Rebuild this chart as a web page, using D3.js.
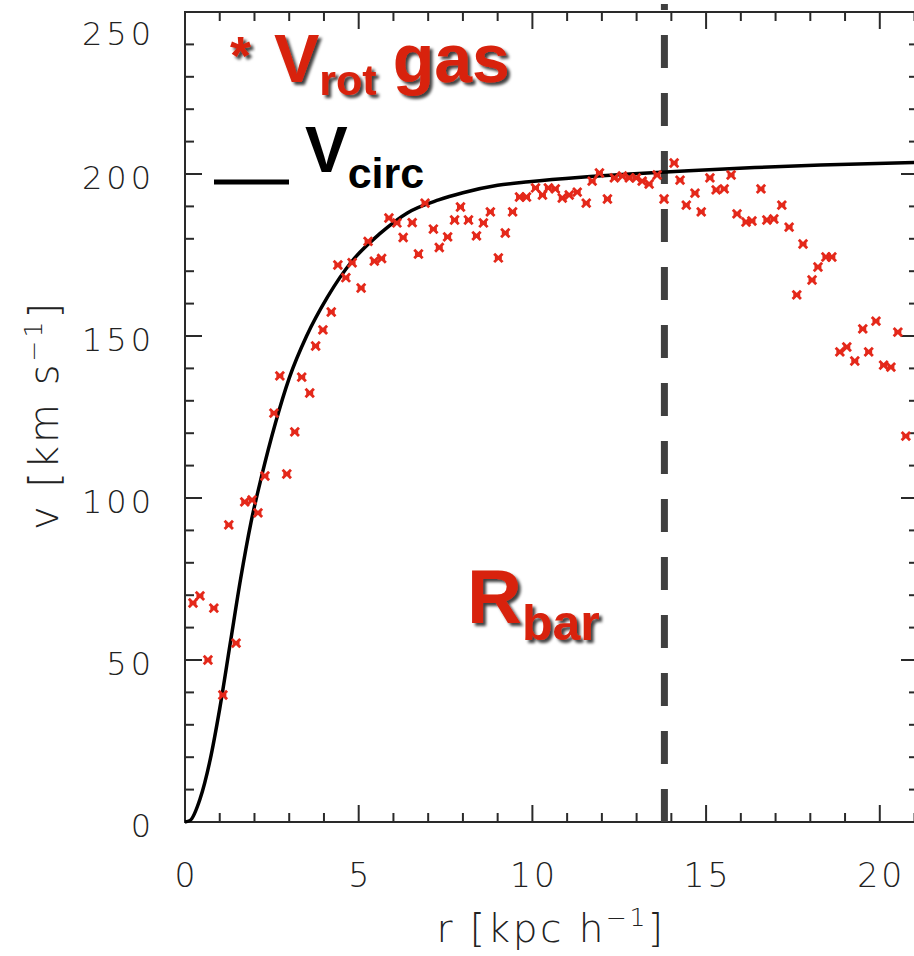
<!DOCTYPE html>
<html>
<head>
<meta charset="utf-8">
<script src="https://cdn.jsdelivr.net/npm/d3@7/dist/d3.min.js"></script>
<style>
  html, body { margin: 0; padding: 0; background: #fff; }
  svg { display: block; }
  .tick-lbl { font-family: 'DejaVu Sans', sans-serif; font-weight: 200; fill: #222; }
  .big { font-family: 'Liberation Sans', Arial, sans-serif; font-weight: bold; }
</style>
</head>
<body>
<div id="chart"></div>
<script>
// rotation curve: circular velocity (solid) and gas rotation velocity (red stars)
const vcircR = [0, 0.15, 0.43, 0.72, 1.0, 1.3, 1.6, 1.9, 2.2, 2.6, 3.0, 3.5, 4.1, 4.8, 5.6, 6.4, 7.3, 8.0, 9.0, 9.9, 11.4, 12.8, 14.5, 16.4, 18.3, 21.1];
const vcircV = [0, 0.5, 7, 19, 35, 55, 75, 92.5, 106.5, 123, 137, 150, 162, 173, 181.5, 188, 192, 194.2, 196.5, 197.6, 199, 200, 201, 202, 202.8, 203.6];

const gasR = [0.23, 0.43, 0.66, 0.83, 1.09, 1.26, 1.47, 1.72, 1.93, 2.10, 2.30, 2.56, 2.73, 2.93, 3.16, 3.36, 3.59, 3.76, 3.97, 4.21,
  4.40, 4.63, 4.81, 5.07, 5.27, 5.45, 5.66, 5.87, 6.10, 6.28, 6.54, 6.72, 6.91, 7.15, 7.32, 7.56, 7.76, 7.93, 8.16, 8.39,
  8.59, 8.79, 9.02, 9.22, 9.43, 9.63, 9.83, 10.09, 10.29, 10.46, 10.66, 10.86, 11.06, 11.29, 11.55, 11.72, 11.93, 12.16, 12.36, 12.59,
  12.79, 12.99, 13.16, 13.36, 13.59, 13.79, 14.08, 14.25, 14.43, 14.68, 14.86, 15.11, 15.29, 15.52, 15.72, 15.89, 16.15, 16.32, 16.58, 16.75,
  16.95, 17.18, 17.39, 17.61, 17.79, 18.05, 18.22, 18.45, 18.62, 18.85, 19.05, 19.28, 19.51, 19.68, 19.89, 20.11, 20.32, 20.52, 20.75];
const gasV = [67.6, 69.8, 50.0, 66.0, 39.2, 91.7, 55.2, 98.8, 99.4, 95.4, 106.8, 126.2, 137.7, 107.4, 120.4, 137.3, 132.4, 146.9, 151.9, 157.4,
  171.9, 168.0, 172.6, 164.8, 179.2, 173.1, 173.9, 186.4, 184.9, 180.4, 185.0, 175.3, 191.0, 183.0, 177.3, 180.6, 185.8, 189.8, 185.8, 180.9,
  184.9, 188.3, 174.1, 181.8, 188.3, 192.9, 192.9, 195.7, 193.5, 195.7, 195.4, 192.6, 193.5, 194.4, 191.0, 197.8, 200.3, 192.3, 198.8, 199.4,
  198.8, 198.8, 197.8, 196.9, 199.7, 192.3, 203.4, 198.1, 190.4, 194.1, 188.3, 198.8, 195.1, 195.4, 199.7, 187.7, 185.2, 185.5, 195.4, 185.8,
  186.1, 190.4, 183.6, 162.7, 178.4, 167.3, 171.3, 174.4, 174.4, 145.1, 146.6, 142.3, 152.2, 145.1, 154.6, 141.0, 140.4, 151.2, 119.1];

const xTicks = [0, 5, 10, 15, 20];
const yTicks = [0, 50, 100, 150, 200, 250];
const rBar = 13.8;

const W = 914, H = 956;
const X0 = 185, X1 = 918, Y0 = 822, Y1 = 12;

const svg = d3.select('#chart').append('svg').attr('width', W).attr('height', H);

const defs = svg.append('defs');
const sh = defs.append('filter').attr('id', 'shadow').attr('x', '-10%').attr('y', '-10%').attr('width', '130%').attr('height', '130%');
sh.append('feDropShadow').attr('dx', 3).attr('dy', 3).attr('stdDeviation', 1.8)
  .attr('flood-color', '#000').attr('flood-opacity', 0.75);

const x = d3.scaleLinear().domain([0, 21.1]).range([X0, X1]);
const y = d3.scaleLinear().domain([0, 250]).range([Y0, Y1]);

// frame + ticks (IDL style, ticks inward on all sides)
const axisCol = '#2a2a2a';
const frame = svg.append('g').attr('stroke', axisCol).attr('stroke-width', 2).attr('fill', 'none');
frame.append('rect').attr('x', X0).attr('y', y(250)).attr('width', X1 - X0).attr('height', Y0 - y(250));

const xMinor = d3.range(0, 22, 1);
xMinor.forEach(v => {
  const len = v % 5 === 0 ? 17 : 9;
  frame.append('line').attr('x1', x(v)).attr('x2', x(v)).attr('y1', Y0).attr('y2', Y0 - len);
  frame.append('line').attr('x1', x(v)).attr('x2', x(v)).attr('y1', y(250)).attr('y2', y(250) + len);
});
const yMinor = d3.range(0, 251, 10);
yMinor.forEach(v => {
  const len = v % 50 === 0 ? 17 : 9;
  frame.append('line').attr('x1', X0).attr('x2', X0 + len).attr('y1', y(v)).attr('y2', y(v));
  frame.append('line').attr('x1', X1).attr('x2', X1 - len).attr('y1', y(v)).attr('y2', y(v));
});

// tick labels
svg.append('g').selectAll('text').data(xTicks).enter().append('text')
  .attr('class', 'tick-lbl').attr('x', d => x(d) + 1.5).attr('y', 887)
  .attr('text-anchor', 'middle').style('font-size', '33px').style('letter-spacing', '3px').text(d => d);
svg.append('g').selectAll('text').data(yTicks).enter().append('text')
  .attr('class', 'tick-lbl').attr('x', 155).attr('y', d => d === 250 ? y(d) + 33 : y(d) + 15)
  .attr('text-anchor', 'end').style('font-size', '32px').style('letter-spacing', '4px').text(d => d);

// axis titles
const xt = svg.append('text').attr('class', 'tick-lbl').attr('x', 551).attr('y', 942)
  .attr('text-anchor', 'middle').style('font-size', '39px').style('letter-spacing', '2.5px');
xt.append('tspan').text('r [kpc h');
xt.append('tspan').attr('dy', -16).style('font-size', '25px').text('−1');
xt.append('tspan').attr('dy', 16).text(']');

const yt = svg.append('text').attr('class', 'tick-lbl')
  .attr('transform', 'translate(58,415) rotate(-90)')
  .attr('text-anchor', 'middle').style('font-size', '40px').style('letter-spacing', '3px');
yt.append('tspan').text('v [km s');
yt.append('tspan').attr('dy', -16).style('font-size', '25px').text('−1');
yt.append('tspan').attr('dy', 16).text(']');

// R_bar dashed line
svg.append('line').attr('x1', x(rBar)).attr('x2', x(rBar)).attr('y1', Y0).attr('y2', 4)
  .attr('stroke', '#404040').attr('stroke-width', 7).attr('stroke-dasharray', '33,25');

// V_circ curve
const line = d3.line().x((d, i) => x(vcircR[i])).y((d, i) => y(vcircV[i])).curve(d3.curveMonotoneX);
svg.append('path').datum(vcircR).attr('d', line)
  .attr('fill', 'none').attr('stroke', '#000').attr('stroke-width', 3.5);

// gas rotation velocity, asterisk markers
const red = '#e4281a';
const star = 'M-4.2,-4.2L4.2,4.2M-4.2,4.2L4.2,-4.2M-3.5,0L3.5,0';
svg.append('g').selectAll('path').data(gasR).enter().append('path')
  .attr('transform', (d, i) => `translate(${x(d)},${y(gasV[i])})`)
  .attr('d', star).attr('stroke', red).attr('stroke-width', 2.8).attr('fill', 'none');

// legend / annotations
const txtRed = '#d8200a';
svg.append('text').attr('class', 'big').attr('x', 230).attr('y', 74)
  .style('font-size', '54px').attr('fill', txtRed).attr('filter', 'url(#shadow)').text('*');
const lg1 = svg.append('text').attr('class', 'big').attr('x', 274).attr('y', 82)
  .style('font-size', '68px').attr('fill', txtRed).attr('filter', 'url(#shadow)');
lg1.append('tspan').text('V');
lg1.append('tspan').attr('dy', 13).style('font-size', '43px').text('rot');
lg1.append('tspan').attr('dy', -13).attr('dx', 16).text('gas');

svg.append('line').attr('x1', 214).attr('x2', 289).attr('y1', 182).attr('y2', 182)
  .attr('stroke', '#000').attr('stroke-width', 5);
const lg2 = svg.append('text').attr('class', 'big').attr('x', 305).attr('y', 172)
  .style('font-size', '64px').attr('fill', '#000');
lg2.append('tspan').text('V');
lg2.append('tspan').attr('dy', 16).style('font-size', '43px').text('circ');

const rb = svg.append('text').attr('class', 'big').attr('x', 467).attr('y', 623)
  .style('font-size', '76px').attr('fill', txtRed).attr('filter', 'url(#shadow)');
rb.append('tspan').text('R');
rb.append('tspan').attr('dy', 17).style('font-size', '50px').text('bar');
</script>
</body>
</html>
